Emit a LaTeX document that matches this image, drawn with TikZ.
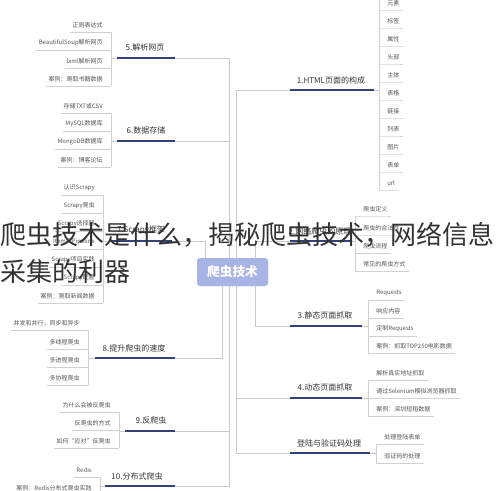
\documentclass[tikz,border=0pt]{standalone}
\usepackage{fontspec}
\setmainfont{Noto Sans CJK SC}
\definecolor{thinline}{HTML}{C8CAD2}
\definecolor{sepline}{HTML}{D0D1D6}
\definecolor{navy}{HTML}{34427A}
\definecolor{hub}{HTML}{A9B4E6}
\definecolor{leaftext}{HTML}{555555}
\definecolor{labeltext}{HTML}{333333}
\definecolor{titletext}{HTML}{333333}
\newcommand\LItem[4]{%
  \node[leaf,anchor=east] (#1) at (#2-8,#3) {#4};
  \coordinate (#1s) at (#2,#3+7);
  \draw[sepl] (#1.west |- #1s) ++(-2,0) -- (#1s);
}
\newcommand\RItem[4]{%
  \node[leaf,anchor=west] (#1) at (#2+8,#3) {#4};
  \coordinate (#1s) at (#2,#3+7);
  \draw[sepl] (#1s) -- (#1.east |- #1s) -- ++(3,0);
}
\begin{document}
\begin{tikzpicture}[x=0.75pt,y=-0.75pt,
  leaf/.style={font=\fontsize{4.5}{5}\selectfont, text=leaftext, inner sep=0pt},
  blabel/.style={font=\fontsize{6}{7}\selectfont, text=labeltext, inner sep=0pt},
  sepl/.style={draw=sepline, line width=0.5pt},
  thinl/.style={draw=thinline, line width=0.6pt},
  navybar/.style={draw=navy, line width=1.8pt},
  hubnode/.style={fill=hub, rounded corners=2.5pt, minimum width=53.25pt, minimum height=21pt, inner sep=0pt, text=white, font=\fontsize{9.5}{10}\selectfont\bfseries},
  titletxt/.style={font=\fontsize{19.5}{22}\selectfont, text=titletext, inner sep=0pt, anchor=base west}]
\useasboundingbox (0,0) rectangle (498,490);
\fill[white] (0,0) rectangle (498,490);

% hub
\node[hubnode] (c) at (232.5,272) {爬虫技术};
\coordinate (cT229) at (229,258);
\coordinate (cT236) at (236,258);
\coordinate (cT205) at (205,258);
\coordinate (cT255) at (255,258);
\coordinate (cB222) at (222,286);
\coordinate (cB229) at (229,286);
\coordinate (cB236) at (236,286);
\coordinate (cB255) at (255,286);

% ---- branch 5
\node[blabel] (L5) at (145,47) {5.解析网页};
\LItem{i5a}{111}{25}{正则表达式}
\LItem{i5b}{111}{43}{BeautifulSoup解析网页}
\LItem{i5c}{111}{61}{lxml解析网页}
\LItem{i5d}{111}{79}{案例：爬取书籍数据}
\draw[sepl] (i5as) -- (i5ds);
\coordinate (k5) at (111,58); \coordinate (b5a) at (117,58); \coordinate (b5b) at (175,58);
\draw[thinl] (k5) -- (b5a);
\draw[thinl] (b5b) -| (cT229);
\draw[navybar] (b5a) -- (b5b);

% ---- branch 6
\node[blabel] (L6) at (146,130) {6.数据存储};
\LItem{i6a}{111}{106}{存储TXT或CSV}
\LItem{i6b}{111}{124}{MySQL数据库}
\LItem{i6c}{111}{142}{MongoDB数据库}
\LItem{i6d}{111}{160}{案例：博客论坛}
\draw[sepl] (i6as) -- (i6ds);
\coordinate (k6) at (111,141); \coordinate (b6a) at (117,141); \coordinate (b6b) at (175,141);
\draw[thinl] (k6) -- (b6a);
\draw[thinl] (b6b) -| (cT229);
\draw[navybar] (b6a) -- (b6b);

% ---- branch 7
\node[blabel] (L7) at (141,230) {7.Scrapy框架};
\LItem{i7a}{103}{188}{认识Scrapy}
\LItem{i7b}{103}{206}{Scrapy爬虫}
\LItem{i7c}{103}{224}{Scrapy选择器}
\LItem{i7d}{103}{242}{Item和Pipeline}
\LItem{i7e}{103}{260}{Scrapy项目实践}
\LItem{i7f}{103}{278}{Scrapy配置}
\LItem{i7g}{103}{296}{案例：爬取新闻数据}
\draw[sepl] (i7as) -- (i7gs);
\coordinate (k7) at (103,241); \coordinate (b7a) at (110,241); \coordinate (b7b) at (172,241);
\draw[thinl] (k7) -- (b7a);
\draw[thinl] (b7b) -| (cT205);
\draw[navybar] (b7a) -- (b7b);

% ---- branch 8
\node[blabel] (L8) at (134,348) {8.提升爬虫的速度};
\LItem{i8a}{88}{323}{并发和并行，同步和异步}
\LItem{i8b}{88}{342}{多线程爬虫}
\LItem{i8c}{88}{360}{多进程爬虫}
\LItem{i8d}{88}{378}{多协程爬虫}
\draw[sepl] (i8as) -- (i8ds);
\coordinate (k8) at (88,358); \coordinate (b8a) at (95,358); \coordinate (b8b) at (175,358);
\draw[thinl] (k8) -- (b8a);
\draw[thinl] (b8b) -| (cB222);
\draw[navybar] (b8a) -- (b8b);

% ---- branch 9
\node[blabel] (L9) at (151,420) {9.反爬虫};
\LItem{i9a}{119}{405}{为什么会被反爬虫}
\LItem{i9b}{119}{423}{反爬虫的方式}
\LItem{i9c}{119}{441}{如何“应对”反爬虫}
\draw[sepl] (i9as) -- (i9cs);
\coordinate (k9) at (119,431); \coordinate (b9a) at (125,431); \coordinate (b9b) at (175,431);
\draw[thinl] (k9) -- (b9a);
\draw[thinl] (b9b) -| (cB229);
\draw[navybar] (b9a) -- (b9b);

% ---- branch 10
\node[blabel] (L10) at (137,476) {10.分布式爬虫};
\LItem{i10a}{100}{470}{Redis}
\LItem{i10b}{100}{488}{案例：Redis分布式爬虫实践}
\draw[sepl] (i10as) -- (i10bs);
\coordinate (k10) at (100,486); \coordinate (b10a) at (105,486); \coordinate (b10b) at (175,486);
\draw[thinl] (k10) -- (b10a);
\draw[thinl] (b10b) -| (cB229);
\draw[navybar] (b10a) -- (b10b);

% ---- branch 1
\node[blabel] (L1) at (331,80) {1.HTML页面的构成};
\RItem{i1a}{379}{3}{元素}
\RItem{i1b}{379}{21}{标签}
\RItem{i1c}{379}{39}{属性}
\RItem{i1d}{379}{57}{头部}
\RItem{i1e}{379}{75}{主体}
\RItem{i1f}{379}{93}{表格}
\RItem{i1g}{379}{111}{链接}
\RItem{i1h}{379}{129}{列表}
\RItem{i1i}{379}{147}{图片}
\RItem{i1j}{379}{165}{表单}
\RItem{i1k}{379}{183}{url}
\coordinate (k1top) at (379,0);
\draw[sepl] (k1top) -- (i1ks);
\coordinate (k1) at (379,90); \coordinate (b1a) at (290,90); \coordinate (b1b) at (374,90);
\draw[thinl] (b1b) -- (k1);
\draw[thinl] (cT236) |- (b1a);
\draw[navybar] (b1a) -- (b1b);

% ---- branch 2
\node[blabel] (L2) at (320,231) {2.网络爬虫的原理};
\RItem{i2a}{355}{209}{爬虫定义}
\RItem{i2b}{355}{228}{爬虫的合法性}
\RItem{i2c}{355}{246}{爬虫流程}
\RItem{i2d}{355}{264}{常见的爬虫方式}
\draw[sepl] (i2as) -- (i2ds);
\coordinate (k2) at (355,241); \coordinate (b2a) at (290,241); \coordinate (b2b) at (350,241);
\draw[thinl] (b2b) -- (k2);
\draw[thinl] (cT255) |- (b2a);
\draw[navybar] (b2a) -- (b2b);

% ---- branch 3
\node[blabel] (L3) at (325,315) {3.静态页面抓取};
\RItem{i3a}{368}{293}{Requests}
\RItem{i3b}{368}{311}{响应内容}
\RItem{i3c}{368}{329}{定制Requests}
\RItem{i3d}{368}{346}{案例：抓取TOP250电影数据}
\draw[sepl] (i3as) -- (i3ds);
\coordinate (k3) at (368,326); \coordinate (b3a) at (290,326); \coordinate (b3b) at (362,326);
\draw[thinl] (b3b) -- (k3);
\draw[thinl] (cB255) |- (b3a);
\draw[navybar] (b3a) -- (b3b);

% ---- branch 4
\node[blabel] (L4) at (325,387) {4.动态页面抓取};
\RItem{i4a}{368}{373}{解析真实地址抓取}
\RItem{i4b}{368}{391}{通过Selenium模拟浏览器抓取}
\RItem{i4c}{368}{409}{案例：深圳短租数据}
\draw[sepl] (i4as) -- (i4cs);
\coordinate (k4) at (368,398); \coordinate (b4a) at (290,398); \coordinate (b4b) at (362,398);
\draw[thinl] (b4b) -- (k4);
\draw[thinl] (cB236) |- (b4a);
\draw[navybar] (b4a) -- (b4b);

% ---- branch login
\node[blabel] (L11) at (329,443) {登陆与验证码处理};
\RItem{i11a}{376}{437}{处理登陆表单}
\RItem{i11b}{376}{456}{验证码的处理}
\draw[sepl] (i11as) -- (i11bs);
\coordinate (k11) at (376,453); \coordinate (b11a) at (290,453); \coordinate (b11b) at (370,453);
\draw[thinl] (b11b) -- (k11);
\draw[thinl] (cB236) |- (b11a);
\draw[navybar] (b11a) -- (b11b);

% hub on top of trunk lines
\node[hubnode] at (c) {爬虫技术};

% title overlay
\node[titletxt] (t1) at (0,244) {爬虫技术是什么，揭秘爬虫技术，网络信息};
\node[titletxt] (t2) at (0,281) {采集的利器};
\end{tikzpicture}
\end{document}
